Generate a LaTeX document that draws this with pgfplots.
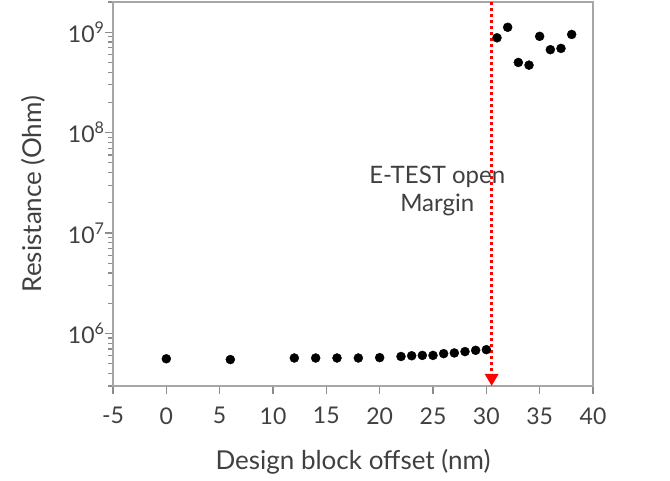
\documentclass[border=0pt]{standalone}
\usepackage{pgfplots}
\pgfplotsset{compat=1.18}
\usetikzlibrary{arrows.meta}
\usepackage{fontspec}
\setmainfont{Lato}
\definecolor{axgray}{HTML}{A6A6A6}
\definecolor{tickgray}{HTML}{8C8C8C}
\definecolor{txt}{HTML}{404040}
\begin{document}
\begin{tikzpicture}
\useasboundingbox (0,0) rectangle (670pt,480pt);
\begin{axis}[
  at={(113pt,94pt)}, anchor=south west,
  scale only axis, width=480pt, height=384pt,
  xmin=-5, xmax=40, ymin=3e5, ymax=2e9,
  ymode=log, log basis y=10,
  axis line style={axgray, line width=1.2pt},
  xtick={-5,0,...,40},
  ytick={1e6,1e7,1e8,1e9},
  minor ytick={3e5,4e5,5e5,6e5,7e5,8e5,9e5,2e6,3e6,4e6,5e6,6e6,7e6,8e6,9e6,2e7,3e7,4e7,5e7,6e7,7e7,8e7,9e7,2e8,3e8,4e8,5e8,6e8,7e8,8e8,9e8,2e9},
  yticklabel={10\textsuperscript{\pgfmathparse{int(round(\tick))}\pgfmathresult}},
  xtick align=outside, ytick align=outside,
  xtick pos=bottom, ytick pos=left,
  major tick length=8pt, minor tick length=5pt,
  major tick style={draw=tickgray, line width=1.3pt},
  minor tick style={draw=tickgray, line width=1.2pt},
  /pgf/number format/assume math mode=true,
  ticklabel style={font=\fontsize{23}{27}\selectfont, text=txt},
  xticklabel style={yshift=-10pt},
  yticklabel style={xshift=3pt},
  xlabel={Design block offset (nm)},
  ylabel={Resistance (Ohm)},
  label style={font=\fontsize{26}{30}\selectfont, text=txt},
  xlabel style={yshift=-18pt},
  ylabel style={yshift=16pt},
  clip=false,
]
\addplot[only marks, mark=*, mark size=4.5pt, black] coordinates {
(0,5.6e5) (6,5.5e5) (12,5.7e5) (14,5.7e5) (16,5.7e5) (18,5.7e5) (20,5.75e5)
(22,5.9e5) (23,6.0e5) (24,6.05e5) (25,6.05e5) (26,6.3e5) (27,6.4e5)
(28,6.6e5) (29,6.8e5) (30,6.9e5)
};
\addplot[only marks, mark=*, mark size=4.5pt, black] coordinates {
(31,8.8e8) (32,1.12e9) (33,5.0e8) (34,4.7e8) (35,9.1e8) (36,6.7e8) (37,6.9e8) (38,9.5e8)
};
\draw[red, line width=3pt, dash pattern=on 3pt off 3pt, -{Triangle[width=13pt,length=12pt,fill=red]}] (axis cs:30.5,2e9) -- (axis cs:30.5,3e5);
\node[align=center, text=txt, font=\fontsize{24}{28}\selectfont] at (axis cs:25.4,2.6e7) {E-TEST open\\Margin};
\end{axis}
\end{tikzpicture}
\end{document}
